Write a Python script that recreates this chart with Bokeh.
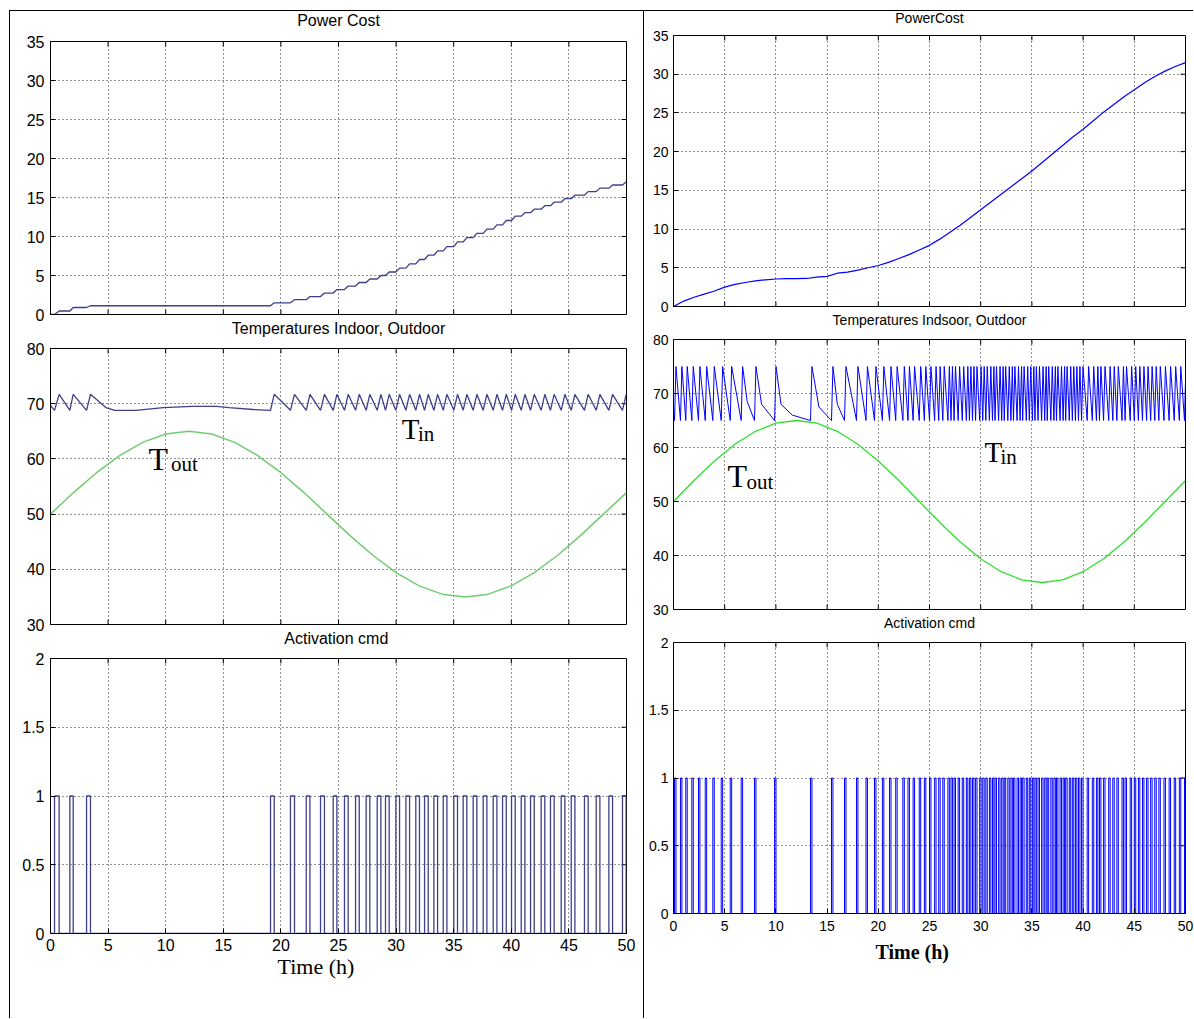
from bokeh.plotting import figure
from bokeh.layouts import column, row
from bokeh.models import FixedTicker, Range1d, PrintfTickFormatter, Title
from bokeh.embed import file_html
from bokeh.resources import INLINE
from bokeh.core.properties import value

# ---------------- data ----------------
X_TICKS = [0, 5, 10, 15, 20, 25, 30, 35, 40, 45, 50]
COST_TICKS = [0, 5, 10, 15, 20, 25, 30, 35]
TEMP_TICKS = [30, 40, 50, 60, 70, 80]
ACT_TICKS = [0, 0.5, 1, 1.5, 2]

# outdoor temperature (both runs), read every 2 h
TOUT_T = [0, 2, 4, 6, 8, 10, 12, 14, 16, 18, 20, 22, 24, 26, 28, 30, 32, 34, 36, 38, 40, 42, 44, 46, 48, 50]
TOUT_V = [50.0, 53.9, 57.5, 60.6, 63.0, 64.5, 65.0, 64.5, 63.0, 60.6, 57.5, 53.9, 50.0, 46.1, 42.5, 39.4,
          37.0, 35.5, 35.0, 35.5, 37.0, 39.4, 42.5, 46.1, 50.0, 53.9]

# left run: heater pulses (on / off, hours) and cumulated cost after each pulse
L_ON = [0.35, 1.68, 3.13, 19.10, 20.83, 22.20, 23.44, 24.54, 25.52, 26.48, 27.40, 28.36, 29.08, 29.98,
        30.85, 31.71, 32.47, 33.28, 34.09, 35.01, 35.82, 36.69, 37.56, 38.43, 39.24, 40.02, 40.86, 41.67,
        42.59, 43.40, 44.33, 45.20, 46.35, 47.37, 48.47, 49.65]
L_OFF = [0.75, 1.97, 3.47, 19.42, 21.18, 22.52, 23.78, 24.86, 25.84, 26.80, 27.72, 28.68, 29.40, 30.30,
         31.17, 32.03, 32.79, 33.60, 34.41, 35.33, 36.14, 37.01, 37.88, 38.75, 39.56, 40.34, 41.18, 41.99,
         42.91, 43.72, 44.65, 45.52, 46.67, 47.69, 48.79, 49.97]
L_COST = [0.45, 0.90, 1.12, 1.50, 1.90, 2.30, 2.75, 3.20, 3.65, 4.10, 4.55, 5.00, 5.45, 5.95,
          6.50, 7.05, 7.60, 8.15, 8.70, 9.30, 9.85, 10.40, 10.95, 11.50, 12.05, 12.60, 13.05, 13.50,
          13.95, 14.40, 14.85, 15.30, 15.75, 16.20, 16.60, 17.00]
L_TIN_START = 69.7
L_TIN_HIGH = 71.7
L_TIN_LOW = 68.8
L_IDLE_T = [4.8, 5.6, 7.4, 9.8, 12.3, 14.4, 15.5, 17.6]
L_IDLE_V = [69.3, 68.8, 68.8, 69.3, 69.5, 69.5, 69.3, 68.95]

# right run
R_ON = [0.10, 0.68, 1.20, 1.79, 2.44, 3.10, 3.84, 4.66, 5.54, 6.61, 7.91, 9.87,
        13.38, 15.43, 16.70, 17.87, 18.80, 19.63,
        20.40, 21.10, 21.70, 22.40, 22.90, 23.40, 24.00, 24.50, 25.00, 25.50, 25.90, 26.30, 26.80,
        27.10, 27.40, 27.80, 28.20, 28.60, 28.90, 29.20, 29.50, 29.90,
        30.20, 30.50, 30.85, 31.15, 31.40, 31.75, 32.05, 32.30, 32.65, 32.95, 33.20, 33.55, 33.85,
        34.10, 34.45, 34.75, 35.05, 35.30, 35.60, 35.95, 36.25, 36.50, 36.85, 37.15, 37.40, 37.75,
        38.05, 38.30, 38.65, 38.95, 39.25, 39.55, 39.85,
        40.40, 40.90, 41.30, 41.60, 42.00, 42.50, 42.90, 43.30, 43.80, 44.10, 44.60, 45.00, 45.40,
        45.80, 46.20, 46.60, 47.00, 47.40, 47.90, 48.40, 48.90, 49.40, 49.90]
R_PULSE_H = 0.14
R_TIN_START = 67.5
R_TIN_HIGH = 75.0
R_TIN_LOW = 65.0
R_KNEE_T = [7.2, 8.6, 10.5, 11.6, 14.2, 16.0]
R_KNEE_V = [68.5, 68.0, 68.0, 66.0, 67.5, 68.0]
R_COST_T = [0, 1, 2, 3, 4, 5, 6, 7, 8, 9, 10, 11, 12, 13, 14, 15, 16, 17, 18, 19, 20, 21, 22, 23, 24, 25,
            26, 27, 28, 29, 30, 31, 32, 33, 34, 35, 36, 37, 38, 39, 40, 41, 42, 43, 44, 45, 46, 47, 48, 49, 50]
R_COST_V = [0.0, 0.7, 1.2, 1.6, 2.0, 2.5, 2.85, 3.1, 3.3, 3.45, 3.55, 3.6, 3.6, 3.62, 3.8, 3.9, 4.3, 4.45,
            4.7, 5.0, 5.3, 5.7, 6.2, 6.7, 7.3, 7.9, 8.7, 9.6, 10.5, 11.5, 12.5, 13.5, 14.5, 15.5, 16.5,
            17.5, 18.6, 19.7, 20.8, 21.9, 22.9, 24.0, 25.1, 26.1, 27.1, 28.0, 28.9, 29.7, 30.4, 31.0, 31.5]

# ---------------- styles ----------------
L_BLUE = "#3f3f8c"
L_GREEN = "#70cc70"
R_BLUE = "#0000ff"
R_GREEN = "#2ee02e"
SANS = "Liberation Sans"
SERIF = "Liberation Serif"
TICK_PX = 5


def cost_path(ons, offs, costs):
    xs, ys, prev = [0.0], [0.0], 0.0
    for a, b, c in zip(ons, offs, costs):
        xs += [a, b]
        ys += [prev, c]
        prev = c
    xs.append(50.0)
    ys.append(prev)
    return xs, ys


def pulse_path(ons, offs):
    xs, ys = [0.0], [0.0]
    for a, b in zip(ons, offs):
        xs += [a, a, b, b]
        ys += [0, 1, 1, 0]
    xs.append(50.0)
    ys.append(0.0)
    return xs, ys


def tin_path(ons, offs, lo, hi, v0, ext_t, ext_v):
    pts = [(0.0, v0)]
    for a, b in zip(ons, offs):
        pts += [(a, lo), (b, hi)]
    pts += list(zip(ext_t, ext_v))
    pts.sort()
    return [p[0] for p in pts], [p[1] for p in pts]


def panel(fw, fh, bl, br, bt, bb, yr, yticks, tick_fs, show_x, x_standoff=4, y_standoff=6):
    p = figure(frame_width=fw, frame_height=fh, min_border_left=bl, min_border_right=br,
               min_border_top=bt, min_border_bottom=bb, x_range=Range1d(0, 50),
               y_range=Range1d(*yr), output_backend="svg", toolbar_location=None,
               background_fill_color="white", border_fill_color=None)
    p.outline_line_color = "black"
    p.outline_line_alpha = 1.0
    p.outline_line_width = 1
    xt = FixedTicker(ticks=X_TICKS)
    yt = FixedTicker(ticks=yticks)
    p.xaxis.ticker = xt
    p.yaxis.ticker = yt
    p.xgrid.ticker = xt
    p.ygrid.ticker = yt
    p.yaxis.formatter = PrintfTickFormatter(format="%g")
    p.xaxis.formatter = PrintfTickFormatter(format="%g")
    for ax in (p.xaxis[0], p.yaxis[0]):
        ax.axis_line_color = "black"
        ax.major_tick_line_color = "black"
        ax.major_tick_in = TICK_PX
        ax.major_tick_out = 0
        ax.minor_tick_line_color = None
        ax.major_label_text_font = SANS
        ax.major_label_text_font_size = tick_fs
        ax.major_label_text_color = "black"
    p.yaxis.major_label_standoff = y_standoff
    p.xaxis.major_label_standoff = x_standoff
    for g in (p.xgrid[0], p.ygrid[0]):
        g.grid_line_color = "black"
        g.grid_line_dash = "1 3"
        g.grid_line_alpha = 0.85
        g.grid_line_width = 1

    # inward box ticks on the other sides (MATLAB style)
    ly = (yr[1] - yr[0]) * TICK_PX / fh
    lx = 50.0 * TICK_PX / fw
    xs = X_TICKS[1:-1]
    p.segment(x0=xs, y0=[yr[1]] * len(xs), x1=xs, y1=[yr[1] - ly] * len(xs), line_color="black")
    if not show_x:
        p.xaxis.visible = False
        p.segment(x0=xs, y0=[yr[0]] * len(xs), x1=xs, y1=[yr[0] + ly] * len(xs), line_color="black")
    ys = yticks[1:-1]
    p.segment(x0=[50.0] * len(ys), y0=ys, x1=[50.0 - lx] * len(ys), y1=ys, line_color="black")
    return p


def heading(p, text, where, standoff, fs, valign, font=SANS, style="normal", align="center", offset=0):
    p.add_layout(Title(text=text, align=align, offset=offset, vertical_align=valign, standoff=standoff,
                       text_font=font, text_font_size=fs, text_font_style=style,
                       text_color="black"), where)


def sub_label(p, x_main, y_main, x_sub, y_sub, sub, size_main, size_sub):
    p.text(x=[x_main], y=[y_main], text=["T"], text_font=value(SERIF), text_font_size=size_main,
           text_color="black", text_baseline="middle", text_align="left")
    p.text(x=[x_sub], y=[y_sub], text=[sub], text_font=value(SERIF), text_font_size=size_sub,
           text_color="black", text_baseline="middle", text_align="left")


# ---------------- left column ----------------
l1 = panel(576, 273, 50, 17, 41, 28, (0, 35), COST_TICKS, "16px", False)
cx, cy = cost_path(L_ON, L_OFF, L_COST)
l1.line(cx, cy, line_color=L_BLUE, line_width=1.3)
heading(l1, "Power Cost", "above", 22, "16px", "top")
heading(l1, "Temperatures Indoor, Outdoor", "below", 7, "16px", "bottom")

l2 = panel(576, 276, 50, 17, 6, 28, (30, 80), TEMP_TICKS, "16px", False)
l2.line(TOUT_T, TOUT_V, line_color=L_GREEN, line_width=1.5)
tx, ty = tin_path(L_ON, L_OFF, L_TIN_LOW, L_TIN_HIGH, L_TIN_START, L_IDLE_T, L_IDLE_V)
l2.line(tx, ty, line_color=L_BLUE, line_width=1.3)
sub_label(l2, 8.5, 60.07, 10.45, 58.99, "out", "32px", "21px")
sub_label(l2, 30.5, 65.33, 31.9, 64.6, "in", "29px", "21px")
heading(l2, "Activation  cmd", "below", 7, "16px", "bottom")

l3 = panel(576, 275, 50, 17, 6, 85, (0, 2), ACT_TICKS, "16px", True, x_standoff=5)
ax_, ay_ = pulse_path(L_ON, L_OFF)
l3.line(ax_, ay_, line_color=L_BLUE, line_width=1.3)
heading(l3, "Time (h)", "below", 0, "22px", "top", font=SERIF, align="left", offset=227)

# ---------------- right column ----------------
r1 = panel(512, 271, 30, 8, 35, 26, (0, 35), COST_TICKS, "14px", False, y_standoff=5)
r1.line(R_COST_T, R_COST_V, line_color=R_BLUE, line_width=1.2)
heading(r1, "PowerCost", "above", 15, "14px", "top")
heading(r1, "Temperatures Indsoor, Outdoor", "below", 7, "14px", "bottom")

R_OFF = [t + R_PULSE_H for t in R_ON]
r2 = panel(512, 270, 30, 8, 7, 26, (30, 80), TEMP_TICKS, "14px", False, y_standoff=5)
r2.line(TOUT_T, TOUT_V, line_color=R_GREEN, line_width=1.3)
rx, ry = tin_path(R_ON, R_OFF, R_TIN_LOW, R_TIN_HIGH, R_TIN_START, R_KNEE_T, R_KNEE_V)
r2.line(rx, ry, line_color=R_BLUE, line_width=1.0)
sub_label(r2, 5.27, 54.81, 7.13, 53.7, "out", "32px", "21px")
sub_label(r2, 30.37, 59.17, 31.93, 58.33, "in", "29px", "21px")
heading(r2, "Activation cmd", "below", 7, "14px", "bottom")

r3 = panel(512, 271, 30, 8, 7, 105, (0, 2), ACT_TICKS, "14px", True, x_standoff=7, y_standoff=5)
bx, by = pulse_path(R_ON, R_OFF)
r3.line(bx, by, line_color=R_BLUE, line_width=1.0)
heading(r3, "Time (h)", "below", 14, "20px", "top", font=SERIF, style="bold", align="left", offset=202)

left = column(l1, l2, l3)
right = column(r1, r2, r3)
frame_lines = ("linear-gradient(#000, #000) 9px 10px / 1185px 1px no-repeat, "
               "linear-gradient(#000, #000) 9px 10px / 1px 1009px no-repeat, "
               "linear-gradient(#000, #000) 643px 10px / 1px 1009px no-repeat")
page = row(left, right, styles={"background": frame_lines})

open("out.html", "w").write(file_html(page, INLINE, "chart"))
